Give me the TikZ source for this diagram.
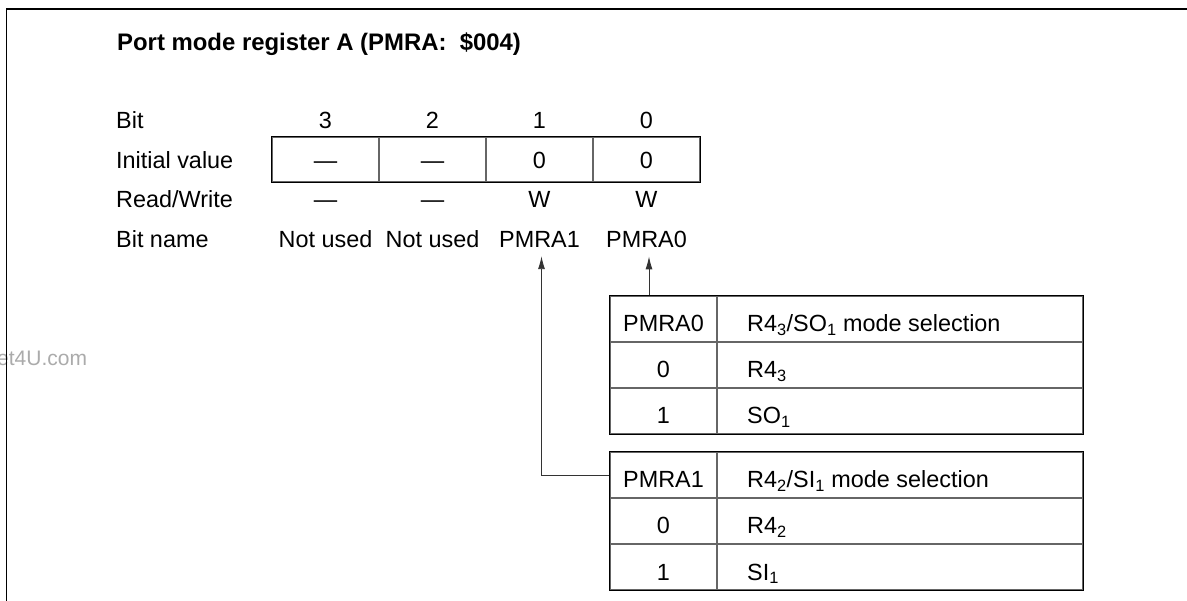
\documentclass[tikz,border=0pt]{standalone}
\usepackage{fontspec}
\setmainfont{Liberation Sans}
\usetikzlibrary{arrows.meta}
\begin{document}
\begin{tikzpicture}[x=1pt,y=-1pt,
  txt/.style={font=\fontsize{23.4}{28}\selectfont, inner sep=0, anchor=base},
  ltxt/.style={txt, anchor=base west},
  ttl/.style={font=\fontsize{23.9}{28}\selectfont\bfseries, inner sep=0, anchor=base west},
  wmark/.style={font=\fontsize{21}{24}\selectfont, inner sep=0, anchor=base west, text=black!33},
  cell/.style={draw=black!60, line width=1.1pt, inner sep=0, minimum height=46, minimum width=107},
  wcell/.style={cell, minimum width=366},
  rcell/.style={draw=black!60, line width=1.1pt, inner sep=0, minimum height=45, minimum width=107},
  outline/.style={draw=black, line width=1.2pt},
  arr/.style={draw=black!80, line width=0.9pt, -{Latex[length=13pt,width=7pt]}},
  frame/.style={draw=black, line width=1.8pt}]
\useasboundingbox (0,0) rectangle (1187,601);
\fill[white] (0,0) rectangle (1187,601);

% watermark
\node[wmark] (wm) at (-3,366) {et4U.com};
% frame
\draw[frame] (6.5,601) -- (6.5,9) -- (1187,9);

% title
\node[ttl] (title) at (117,51) {Port mode register A (PMRA: \ \$004)};

% row labels
\node[ltxt] (lbit)  at (116,129) {Bit};
\node[ltxt] (linit) at (116,169) {Initial value};
\node[ltxt] (lrw)   at (116,208) {Read/Write};
\node[ltxt] (lname) at (116,248) {Bit name};

% register cells
\node[rcell] (c3) at (325.5,159.5) {};
\node[rcell] (c2) at (432.5,159.5) {};
\node[rcell] (c1) at (539.5,159.5) {};
\node[rcell] (c0) at (646.5,159.5) {};
\draw[outline] (c3.north west) rectangle (c0.south east);

% bit numbers
\node[txt] (b3) at (325.5,129) {3};
\node[txt] (b2) at (432.5,129) {2};
\node[txt] (b1) at (539.5,129) {1};
\node[txt] (b0) at (646.5,129) {0};
% initial values
\node[txt] (i3) at (325.5,169) {—};
\node[txt] (i2) at (432.5,169) {—};
\node[txt] (i1) at (539.5,169) {0};
\node[txt] (i0) at (646.5,169) {0};
% read/write
\node[txt] (w3) at (325.5,208) {—};
\node[txt] (w2) at (432.5,208) {—};
\node[txt] (w1) at (539.5,208) {W};
\node[txt] (w0) at (646.5,208) {W};
% bit names
\node[txt] (bn3) at (325.5,248) {Not used};
\node[txt] (bn2) at (432.5,248) {Not used};
\node[txt] (bn1) at (539.5,248) {PMRA1};
\node[txt] (bn0) at (646.5,248) {PMRA0};

% table 1 (PMRA0)
\node[cell]  (t1a) at (663.5,319) {};
\node[wcell] (t1b) at (900,319) {};
\node[cell]  (t1c) at (663.5,365) {};
\node[wcell] (t1d) at (900,365) {};
\node[cell]  (t1e) at (663.5,411) {};
\node[wcell] (t1f) at (900,411) {};
\draw[outline] (t1a.north west) rectangle (t1f.south east);
\node[txt]  (t1at) at (663.5,332) {PMRA0};
\node[ltxt] (t1bt) at (747,332) {R4\textsubscript{3}/SO\textsubscript{1} mode selection};
\node[txt]  (t1ct) at (663.5,378) {0};
\node[ltxt] (t1dt) at (747,378) {R4\textsubscript{3}};
\node[txt]  (t1et) at (663.5,424) {1};
\node[ltxt] (t1ft) at (747,424) {SO\textsubscript{1}};

% table 2 (PMRA1)
\node[cell]  (t2a) at (663.5,475) {};
\node[wcell] (t2b) at (900,475) {};
\node[cell]  (t2c) at (663.5,521) {};
\node[wcell] (t2d) at (900,521) {};
\node[cell]  (t2e) at (663.5,567) {};
\node[wcell] (t2f) at (900,567) {};
\draw[outline] (t2a.north west) rectangle (t2f.south east);
\node[txt]  (t2at) at (663.5,488) {PMRA1};
\node[ltxt] (t2bt) at (747,488) {R4\textsubscript{2}/SI\textsubscript{1} mode selection};
\node[txt]  (t2ct) at (663.5,534) {0};
\node[ltxt] (t2dt) at (747,534) {R4\textsubscript{2}};
\node[txt]  (t2et) at (663.5,580) {1};
\node[ltxt] (t2ft) at (747,580) {SI\textsubscript{1}};

% connectors
\coordinate (a0) at ([xshift=2.5pt,yshift=-8pt]bn0.south);
\coordinate (a1) at ([xshift=2pt,yshift=-8pt]bn1.south);
\draw[arr] (t1a.north -| a0) -- (a0);
\draw[arr] (t2a.west) -| (a1);
\end{tikzpicture}
\end{document}
